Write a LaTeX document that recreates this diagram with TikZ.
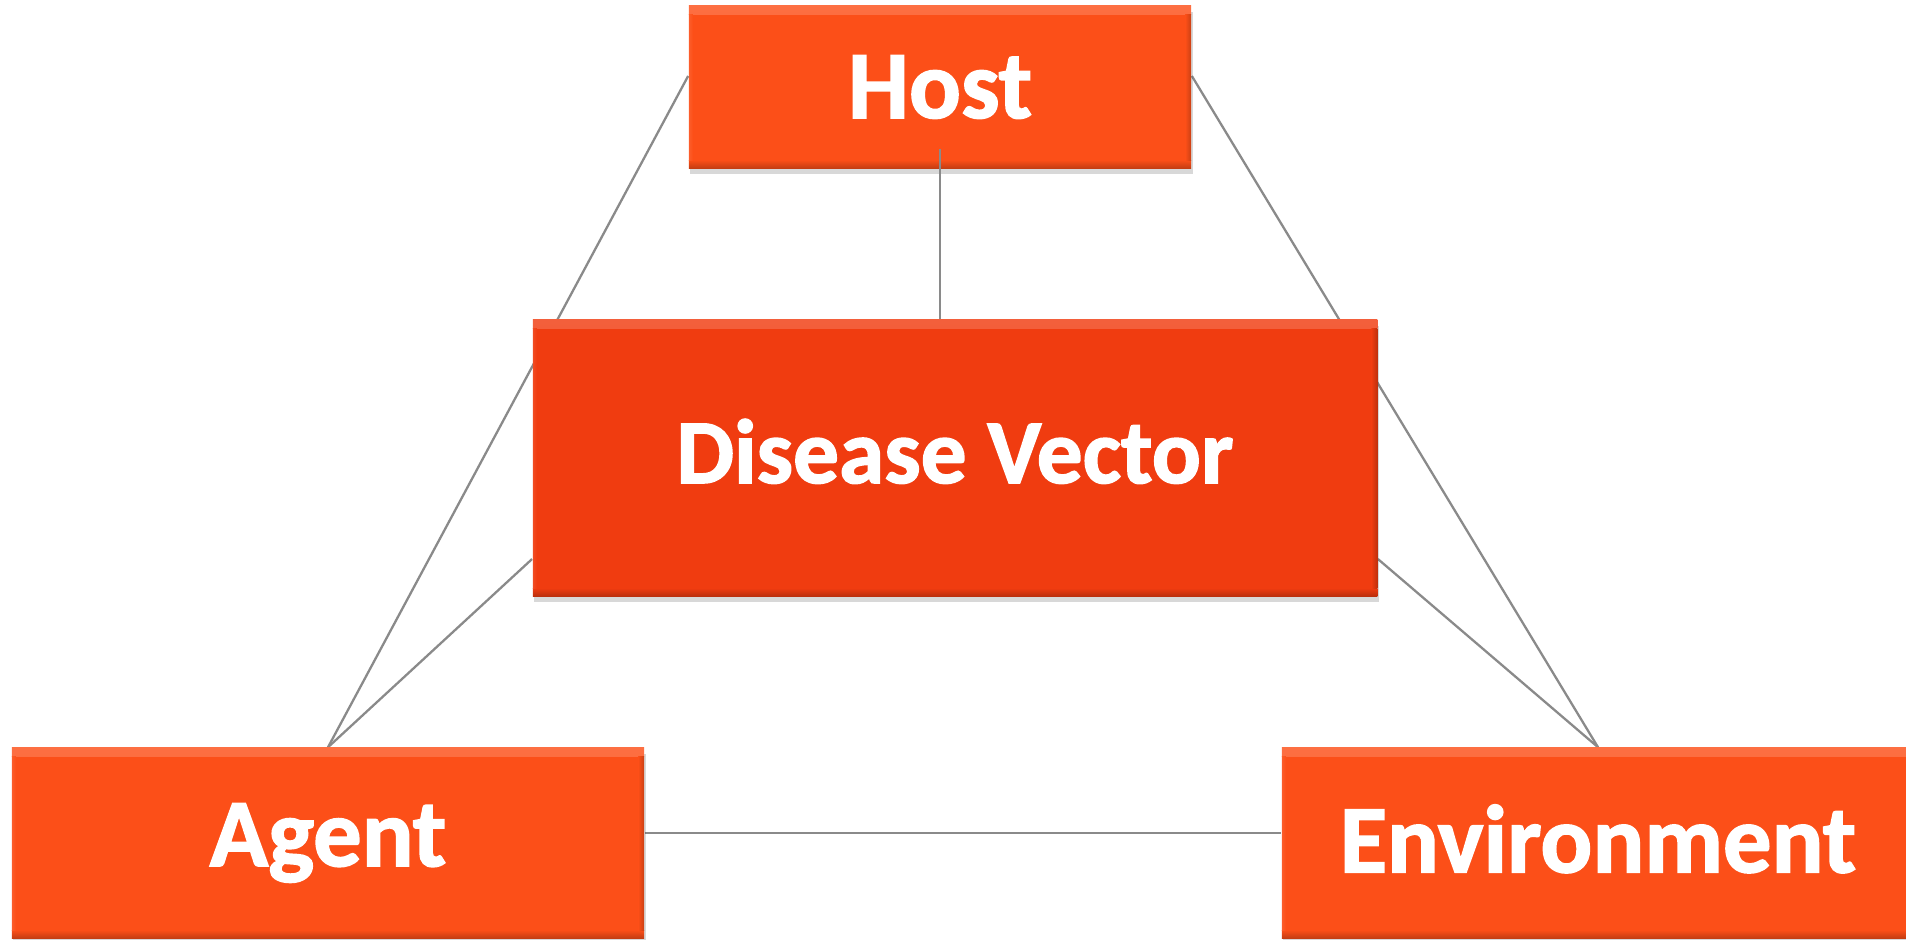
\documentclass[tikz,border=0pt]{standalone}
\usepackage{fontspec}
\setmainfont{Carlito}[BoldFeatures={FakeBold=1.6}]
\usetikzlibrary{shadows}
\definecolor{boxA}{HTML}{FC4F18}
\definecolor{boxB}{HTML}{F03C10}
\definecolor{linegray}{HTML}{8A8A8A}
\pgfdeclarelayer{bg}
\pgfsetlayers{bg,main}
\tikzset{
  bevel/.style={path picture={
    \fill[top color=#1!82!white, bottom color=#1] (path picture bounding box.north west) rectangle ([yshift=-0.09cm]path picture bounding box.north east);
    \fill[top color=#1, bottom color=#1!78!black] ([yshift=0.08cm]path picture bounding box.south west) rectangle (path picture bounding box.south east);
    \fill[left color=#1, right color=#1!80!black] ([xshift=-0.06cm,yshift=0.08cm]path picture bounding box.south east) rectangle ([yshift=-0.09cm]path picture bounding box.north east);
    \fill[left color=#1!92!white, right color=#1] ([yshift=0.08cm]path picture bounding box.south west) rectangle ([xshift=0.04cm,yshift=-0.09cm]path picture bounding box.north west);
  }},
  obox/.style={fill=#1, bevel=#1, text=white, inner sep=0pt,
    font=\fontsize{27.5}{32}\selectfont\bfseries,
    drop shadow={shadow xshift=0.015cm, shadow yshift=-0.06cm, opacity=0.22, fill=black!70}},
  conn/.style={draw=linegray, line width=0.65pt}
}
\begin{document}
\begin{tikzpicture}[x=0.01cm, y=-0.01cm]
\useasboundingbox (0,0) rectangle (1906,940);
\node[obox=boxA, minimum width=5.02cm, minimum height=1.62cm] (host) at (940,87) {Host};
\node[obox=boxB, minimum width=8.44cm, minimum height=2.76cm, font=\fontsize{26}{30}\selectfont\bfseries] (dv) at (955,458) {\raisebox{0.14cm}{Disease Vector}};
\node[obox=boxA, minimum width=6.32cm, minimum height=1.90cm] (agent) at (328,843) {\raisebox{0.09cm}{Agent}};
\node[obox=boxA, minimum width=6.32cm, minimum height=1.90cm] (env) at (1598,843) {\raisebox{0.09cm}{Environment}};
\coordinate (mid) at (0,833);
\begin{pgfonlayer}{bg}
\draw[conn] ([yshift=0.11cm]host.west) -- (agent.north);
\draw[conn] ([yshift=0.11cm]host.east) -- (env.north);
\draw[conn] ([yshift=-1.01cm]dv.west) -- (agent.north);
\draw[conn] ([yshift=-1.01cm]dv.east) -- (env.north);
\draw[conn] (agent.east |- mid) -- (env.west |- mid);
\end{pgfonlayer}
\draw[conn] ([yshift=0.2cm]host.south) -- (host.south |- dv.north);
\end{tikzpicture}
\end{document}
